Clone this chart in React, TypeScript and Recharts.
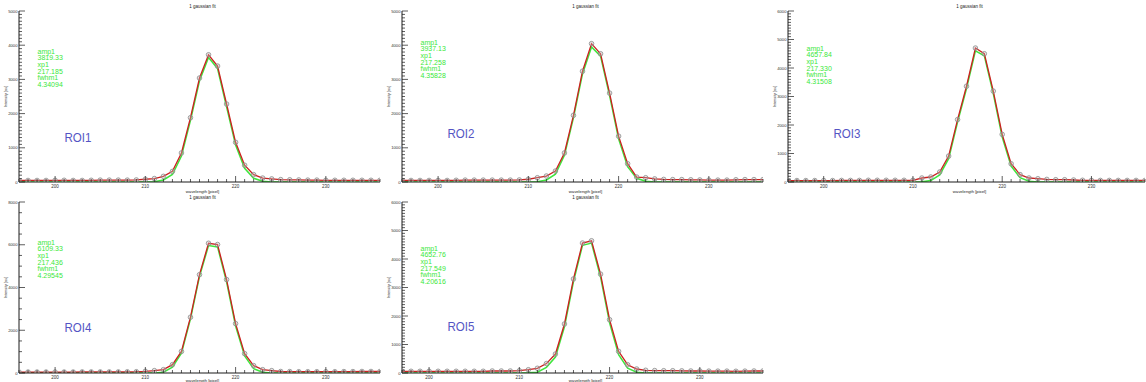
import React from 'react';
import { LineChart, Line, XAxis, YAxis } from 'recharts';

// wavelength grids (pixel)
const WAVELENGTH_A = [196, 197, 198, 199, 200, 201, 202, 203, 204, 205, 206, 207, 208, 209, 210, 211, 212, 213, 214, 215, 216, 217, 218, 219, 220, 221, 222, 223, 224, 225, 226, 227, 228, 229, 230, 231, 232, 233, 234, 235, 236];
const WAVELENGTH_B = [197, 198, 199, 200, 201, 202, 203, 204, 205, 206, 207, 208, 209, 210, 211, 212, 213, 214, 215, 216, 217, 218, 219, 220, 221, 222, 223, 224, 225, 226, 227, 228, 229, 230, 231, 232, 233, 234, 235, 236, 237];

// measured intensities (red line + markers)
const ROI1_DATA = [45, 45, 45, 45, 50, 50, 45, 45, 50, 55, 55, 55, 55, 60, 80, 100, 165, 310, 850, 1880, 3040, 3720, 3390, 2280, 1160, 490, 215, 115, 90, 70, 65, 60, 55, 55, 50, 50, 50, 50, 50, 50, 50];
const ROI2_DATA = [45, 45, 45, 45, 45, 45, 50, 55, 55, 55, 55, 55, 55, 60, 80, 125, 175, 320, 850, 1950, 3240, 4045, 3750, 2600, 1340, 535, 145, 125, 90, 75, 70, 70, 65, 60, 55, 55, 55, 65, 70, 70, 70];
const ROI3_DATA = [50, 50, 50, 50, 50, 50, 55, 55, 55, 60, 60, 60, 60, 60, 60, 140, 175, 350, 910, 2190, 3360, 4700, 4500, 3190, 1670, 640, 260, 140, 115, 90, 80, 80, 70, 60, 55, 55, 55, 55, 55, 55, 55];
const ROI4_DATA = [45, 45, 45, 45, 45, 45, 45, 50, 50, 50, 50, 50, 55, 60, 80, 110, 155, 390, 1010, 2610, 4600, 6070, 6010, 4370, 2310, 905, 345, 155, 110, 70, 65, 60, 60, 60, 60, 60, 65, 65, 70, 70, 70];
const ROI5_DATA = [60, 60, 60, 60, 60, 60, 60, 60, 60, 60, 70, 70, 70, 80, 115, 165, 330, 665, 1720, 3300, 4560, 4640, 3470, 1870, 760, 290, 140, 95, 85, 80, 80, 75, 70, 70, 65, 65, 65, 60, 65, 70, 70];

// gaussian fit (green line)
const ROI1_FIT = [0, 0, 0, 0, 0, 0, 0, 0, 0, 0, 0, 0, 0, 0, 0, 10, 60, 220, 760, 1800, 2960, 3640, 3320, 2200, 1080, 400, 110, 20, 0, 0, 0, 0, 0, 0, 0, 0, 0, 0, 0, 0, 0];
const ROI2_FIT = [0, 0, 0, 0, 0, 0, 0, 0, 0, 0, 0, 0, 0, 0, 0, 10, 60, 230, 780, 1880, 3160, 3950, 3680, 2530, 1260, 450, 110, 20, 0, 0, 0, 0, 0, 0, 0, 0, 0, 0, 0, 0, 0];
const ROI3_FIT = [0, 0, 0, 0, 0, 0, 0, 0, 0, 0, 0, 0, 0, 0, 0, 5, 50, 250, 820, 2100, 3280, 4600, 4430, 3100, 1580, 560, 150, 30, 0, 0, 0, 0, 0, 0, 0, 0, 0, 0, 0, 0, 0];
const ROI4_FIT = [0, 0, 0, 0, 0, 0, 0, 0, 0, 0, 0, 0, 0, 0, 0, 5, 40, 270, 930, 2530, 4520, 5960, 5900, 4270, 2200, 800, 200, 40, 0, 0, 0, 0, 0, 0, 0, 0, 0, 0, 0, 0, 0];
const ROI5_FIT = [0, 0, 0, 0, 0, 0, 0, 0, 0, 0, 0, 0, 0, 0, 5, 30, 200, 560, 1620, 3210, 4480, 4560, 3370, 1760, 640, 170, 30, 0, 0, 0, 0, 0, 0, 0, 0, 0, 0, 0, 0, 0, 0];

// fit parameters shown in green
const ROI1_STATS = ['amp1', '3819.33', 'xp1', '217.185', 'fwhm1', '4.34094'];
const ROI2_STATS = ['amp1', '3937.13', 'xp1', '217.258', 'fwhm1', '4.35828'];
const ROI3_STATS = ['amp1', '4657.84', 'xp1', '217.330', 'fwhm1', '4.31508'];
const ROI4_STATS = ['amp1', '6109.33', 'xp1', '217.436', 'fwhm1', '4.29545'];
const ROI5_STATS = ['amp1', '4652.76', 'xp1', '217.549', 'fwhm1', '4.20616'];

// axis tick labels
const X_MAJOR_TICKS = [200, 210, 220, 230];
const Y_TICKS_5000 = [0, 1000, 2000, 3000, 4000, 5000];
const Y_TICKS_6000 = [0, 1000, 2000, 3000, 4000, 5000, 6000];
const Y_TICKS_8000 = [0, 2000, 4000, 6000, 8000];

const TITLE = '1 gaussian  fit';
const X_LABEL = 'wavelength [pixel]';
const Y_LABEL = 'Intensity [au]';

const FONT = '"Liberation Sans", Arial, sans-serif';
const AXIS_COLOR = '#1a1a1a';

type PanelProps = {
  left: number;
  top: number;
  marginTop: number;
  yAxisW: number;
  plotW: number;
  wl: number[];
  data: number[];
  fit: number[];
  yTicks: number[];
  yMinor: number;
  stats: string[];
  statsY: number;
  roi: string;
  roiY: number;
  xLabelDy: number;
};

function Panel(p: PanelProps) {
  const rows = p.wl.map((w, i) => ({ wl: w, data: p.data[i], fit: p.fit[i] }));
  const xMin = p.wl[0];
  const xMax = p.wl[p.wl.length - 1];
  const yMax = p.yTicks[p.yTicks.length - 1];
  const yMajor = p.yTicks[1] - p.yTicks[0];
  const xAll: number[] = [];
  for (let v = xMin; v <= xMax; v += 1) xAll.push(v);
  const yAll: number[] = [];
  for (let v = 0; v <= yMax; v += p.yMinor) yAll.push(v);
  const H = 196;
  const plotH = 171;
  const W = p.yAxisW + p.plotW + 2;
  const plotCx = p.yAxisW + p.plotW / 2;
  const isXMajor = (v: number) => X_MAJOR_TICKS.includes(v);

  const bottomTick = (props: any) => {
    const { x, y, payload } = props;
    const major = isXMajor(payload.value);
    return (
      <g>
        <line x1={x} x2={x} y1={y} y2={y - (major ? 6 : 3)} stroke={AXIS_COLOR} strokeWidth={0.7} />
        {major && (
          <text x={x} y={y + 6} fontSize={4.5} textAnchor="middle" fill="#333" fontFamily={FONT}>
            {payload.value}
          </text>
        )}
      </g>
    );
  };
  const topTick = (props: any) => {
    const { x, y, payload } = props;
    const major = isXMajor(payload.value);
    return <line x1={x} x2={x} y1={y} y2={y + (major ? 6 : 3)} stroke={AXIS_COLOR} strokeWidth={0.7} />;
  };
  const leftTick = (props: any) => {
    const { x, y, payload } = props;
    const major = payload.value % yMajor === 0;
    return (
      <g>
        <line x1={x} x2={x + (major ? 6 : 3)} y1={y} y2={y} stroke={AXIS_COLOR} strokeWidth={0.7} />
        {major && (
          <text x={x - 1.5} y={y + 1.5} fontSize={4.2} textAnchor="end" fill="#333" fontFamily={FONT}>
            {payload.value}
          </text>
        )}
      </g>
    );
  };
  const rightTick = (props: any) => {
    const { x, y, payload } = props;
    const major = payload.value % yMajor === 0;
    return <line x1={x} x2={x - (major ? 6 : 3)} y1={y} y2={y} stroke={AXIS_COLOR} strokeWidth={0.7} />;
  };
  const marker = (props: any) => {
    const { cx, cy, index } = props;
    return (
      <circle key={`m-${index}`} cx={cx} cy={cy} r={2.3} stroke="#8c8c8c" strokeWidth={0.8} fill="rgba(190,190,190,0.35)" />
    );
  };

  return (
    <div style={{ position: 'absolute', left: p.left, top: p.top, width: W, height: H }}>
      <LineChart width={W} height={H} data={rows} margin={{ top: p.marginTop, right: 2, left: 0, bottom: H - p.marginTop - plotH - 14 }}>
        <XAxis
          xAxisId="bottom"
          dataKey="wl"
          type="number"
          domain={[xMin, xMax]}
          ticks={xAll}
          interval={0}
          height={14}
          tickSize={0}
          tickMargin={0}
          tickLine={false}
          tick={bottomTick}
          axisLine={{ stroke: AXIS_COLOR, strokeWidth: 1 }}
          allowDataOverflow
        />
        <XAxis
          xAxisId="top"
          orientation="top"
          dataKey="wl"
          type="number"
          domain={[xMin, xMax]}
          ticks={xAll}
          interval={0}
          height={0}
          tickSize={0}
          tickMargin={0}
          tickLine={false}
          tick={topTick}
          axisLine={{ stroke: AXIS_COLOR, strokeWidth: 1 }}
          allowDataOverflow
        />
        <YAxis
          yAxisId="left"
          type="number"
          domain={[0, yMax]}
          ticks={yAll}
          interval={0}
          width={p.yAxisW}
          tickSize={0}
          tickMargin={0}
          tickLine={false}
          tick={leftTick}
          axisLine={{ stroke: AXIS_COLOR, strokeWidth: 1 }}
          allowDataOverflow
        />
        <YAxis
          yAxisId="right"
          orientation="right"
          type="number"
          domain={[0, yMax]}
          ticks={yAll}
          interval={0}
          width={0}
          tickSize={0}
          tickMargin={0}
          tickLine={false}
          tick={rightTick}
          axisLine={{ stroke: AXIS_COLOR, strokeWidth: 1 }}
          allowDataOverflow
        />
        <Line
          xAxisId="top"
          yAxisId="right"
          dataKey="data"
          stroke="none"
          dot={false}
          activeDot={false}
          isAnimationActive={false}
        />
        <Line
          xAxisId="bottom"
          yAxisId="left"
          dataKey="fit"
          type="linear"
          stroke="#3ee63e"
          strokeWidth={1.5}
          dot={false}
          activeDot={false}
          isAnimationActive={false}
        />
        <Line
          xAxisId="bottom"
          yAxisId="left"
          dataKey="data"
          type="linear"
          stroke="#cc2020"
          strokeWidth={1.3}
          dot={marker}
          activeDot={false}
          isAnimationActive={false}
        />
      </LineChart>
      <svg
        width={W}
        height={H}
        style={{ position: 'absolute', left: 0, top: 0, pointerEvents: 'none', overflow: 'visible' }}
      >
        <text x={plotCx + 3} y={p.marginTop - 3.5} fontSize={4.5} textAnchor="middle" fill="#222" fontFamily={FONT}>
          {TITLE}
        </text>
        <text x={plotCx + 3} y={p.marginTop + plotH + p.xLabelDy} fontSize={4.2} textAnchor="middle" fill="#222" fontFamily={FONT}>
          {X_LABEL}
        </text>
        <text
          x={0}
          y={0}
          fontSize={3.8}
          textAnchor="middle"
          fill="#222"
          fontFamily={FONT}
          transform={`translate(${p.yAxisW - 12}, ${p.marginTop + plotH / 2}) rotate(-90)`}
        >
          {Y_LABEL}
        </text>
        {p.stats.map((s, i) => (
          <text
            key={s + i}
            x={p.yAxisW + 18.5}
            y={p.statsY + i * 6.7}
            fontSize={7}
            fill="#3be83b"
            fontFamily={FONT}
          >
            {s}
          </text>
        ))}
        <text
          x={p.yAxisW + 45.5}
          y={p.roiY}
          fontSize={13}
          fill="#5454c4"
          fontFamily={FONT}
          textLength={27}
          lengthAdjust="spacingAndGlyphs"
        >
          {p.roi}
        </text>
      </svg>
    </div>
  );
}

export default function App() {
  return (
    <div style={{ position: 'absolute', left: 0, top: 0, width: 1146, height: 382, background: '#fff', overflow: 'hidden' }}>
      <Panel left={0} top={0} marginTop={11} yAxisW={19} plotW={361} wl={WAVELENGTH_A} data={ROI1_DATA} fit={ROI1_FIT} yTicks={Y_TICKS_5000} yMinor={100} stats={ROI1_STATS} statsY={53.5} roi="ROI1" roiY={142} xLabelDy={10.5} />
      <Panel left={380} top={0} marginTop={11} yAxisW={22} plotW={361} wl={WAVELENGTH_A} data={ROI2_DATA} fit={ROI2_FIT} yTicks={Y_TICKS_5000} yMinor={100} stats={ROI2_STATS} statsY={44.5} roi="ROI2" roiY={138} xLabelDy={10.5} />
      <Panel left={765} top={0} marginTop={11} yAxisW={23} plotW={357} wl={WAVELENGTH_A} data={ROI3_DATA} fit={ROI3_FIT} yTicks={Y_TICKS_6000} yMinor={100} stats={ROI3_STATS} statsY={50.5} roi="ROI3" roiY={138} xLabelDy={10.5} />
      <Panel left={0} top={190} marginTop={12} yAxisW={19} plotW={361} wl={WAVELENGTH_A} data={ROI4_DATA} fit={ROI4_FIT} yTicks={Y_TICKS_8000} yMinor={500} stats={ROI4_STATS} statsY={54.5} roi="ROI4" roiY={142} xLabelDy={8.8} />
      <Panel left={380} top={190} marginTop={12} yAxisW={22} plotW={361} wl={WAVELENGTH_B} data={ROI5_DATA} fit={ROI5_FIT} yTicks={Y_TICKS_6000} yMinor={100} stats={ROI5_STATS} statsY={60.5} roi="ROI5" roiY={141} xLabelDy={8.8} />
    </div>
  );
}
